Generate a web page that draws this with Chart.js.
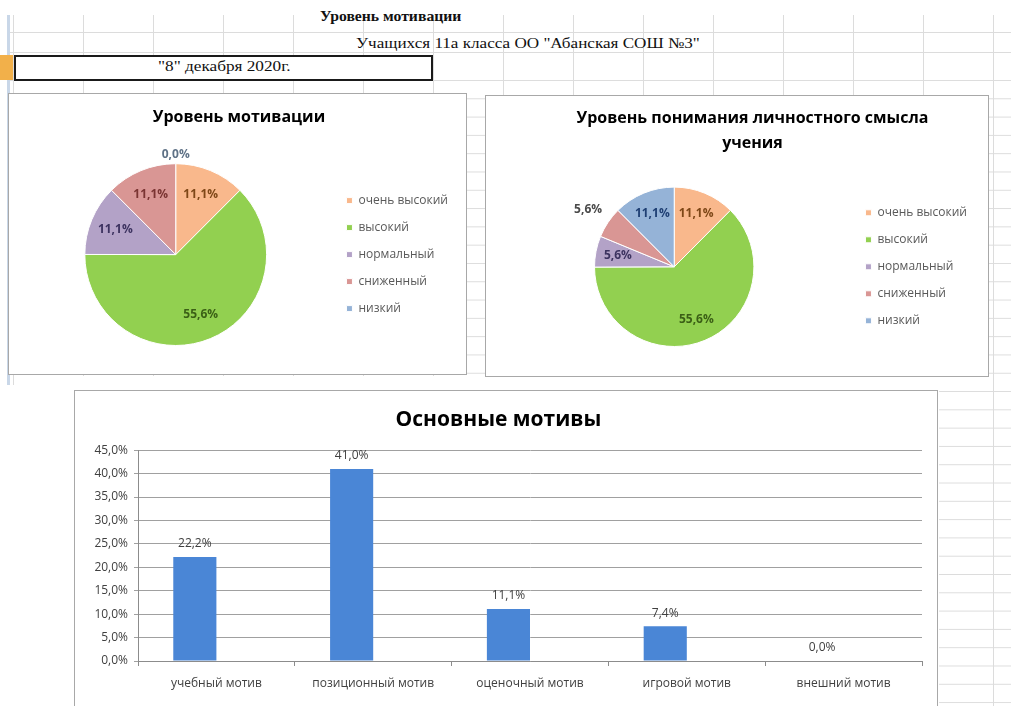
<!DOCTYPE html>
<html>
<head>
<meta charset="utf-8">
<script src="https://cdn.jsdelivr.net/npm/chart.js@4.4.0/dist/chart.umd.min.js"></script>
<style>
  body { margin: 0; width: 1011px; height: 706px; overflow: hidden; background: #fff; position: relative; }
  .abs { position: absolute; }
  .grid {
    left: 10px; top: 15px; width: 1001px; height: 691px;
    background-image: linear-gradient(to right, #dcdcdc 1px, transparent 1px);
    background-size: 70px 100%;
    background-position: 3px 0;
  }
  .rows {
    left: 10px; top: 80px; width: 1001px; height: 626px;
    background-image: linear-gradient(to bottom, #dcdcdc 1px, transparent 1px);
    background-size: 100% 18.3px;
  }
  .hline { height: 1px; background: #dcdcdc; left: 10px; width: 1001px; }
  .txt { white-space: nowrap; font-family: "Liberation Serif", serif; color: #111; transform-origin: left center; }
  .box { box-sizing: border-box; border: 1px solid #a8a8a8; background: #fff; }
  canvas { position: absolute; left: 0; top: 0; }
</style>
</head>
<body>
<div class="abs grid"></div>
<div class="abs rows"></div>
<div class="abs hline" style="top:32px"></div>
<div class="abs hline" style="top:52px"></div>
<div class="abs" style="left:7px;top:15px;width:3px;height:375px;background:#c9d7e8"></div>
<div class="abs" style="left:0;top:55px;width:13px;height:25px;background:#f2b04a"></div>
<div class="abs" style="left:0;top:385px;width:63px;height:321px;background:#fff"></div>
<div class="abs" style="left:63px;top:376px;width:876px;height:330px;background:#fff"></div>

<div class="abs txt" style="left:320px;top:9px;font-size:14px;font-weight:bold;transform:scaleX(1.12)">Уровень мотивации</div>
<div class="abs txt" style="left:356px;top:35px;font-size:15px;transform:scaleX(1.14)">Учащихся 11а класса ОО "Абанская СОШ №3"</div>
<div class="abs" style="left:14px;top:55px;width:419px;height:26px;box-sizing:border-box;border:2px solid #1a1a1a;background:#fff"></div>
<div class="abs txt" style="left:158px;top:59px;font-size:14px;transform:scaleX(1.23)">"8" декабря 2020г.</div>

<div class="abs box" style="left:8px;top:93px;width:459px;height:282px">
  <canvas id="pie1" width="457" height="280"></canvas>
</div>
<div class="abs box" style="left:485px;top:95px;width:504px;height:282px">
  <canvas id="pie2" width="502" height="280"></canvas>
</div>
<div class="abs box" style="left:74px;top:390px;width:864px;height:330px">
  <canvas id="bars" width="862" height="315"></canvas>
</div>

<script>
// data
const levelLabels = ['очень высокий', 'высокий', 'нормальный', 'сниженный', 'низкий'];
const motivationValues = [11.1, 55.6, 11.1, 11.1, 0.0];
const meaningValues = [11.1, 55.6, 5.6, 5.6, 11.1];

const motiveLabels = ['учебный мотив', 'позиционный мотив', 'оценочный мотив', 'игровой мотив', 'внешний мотив'];
const motiveValues = [22.2, 41.0, 11.1, 7.4, 0.0];
const motiveEmpty = [null, null, null, null, null];
const yMin = 0, yMax = 45, yStep = 5;

const sliceColors = ['#f9b88c', '#92d050', '#b3a2c7', '#d99694', '#95b3d7'];
const font = 'Open Sans';

function pct(v) {
  return v.toFixed(1).replace('.', ',') + '%';
}

// labels on slices, placed from the arc elements
const sliceLabels = {
  id: 'sliceLabels',
  afterDatasetsDraw(chart, args, opts) {
    const ctx = chart.ctx;
    const values = chart.data.datasets[0].data;
    ctx.save();
    ctx.font = 'bold 12px "' + font + '"';
    ctx.textAlign = 'center';
    ctx.textBaseline = 'middle';
    chart.getDatasetMeta(0).data.forEach((arc, i) => {
      const p = arc.getProps(['x', 'y', 'startAngle', 'endAngle', 'outerRadius'], true);
      const mid = (p.startAngle + p.endAngle) / 2;
      const k = opts.outside.includes(i) ? opts.outerFactor : 0.72;
      ctx.fillStyle = opts.colors[i];
      ctx.fillText(pct(values[i]), p.x + Math.cos(mid) * p.outerRadius * k, p.y + Math.sin(mid) * p.outerRadius * k);
    });
    ctx.restore();
  }
};

// excel had the title a bit off-centre
const titleShift = {
  id: 'titleShift',
  afterLayout(chart, args, opts) {
    const t = chart.titleBlock;
    if (t && opts.dx) {
      t.left += opts.dx;
      t.right += opts.dx;
    }
  }
};

const barLabels = {
  id: 'barLabels',
  afterDatasetsDraw(chart) {
    const ctx = chart.ctx;
    const values = chart.data.datasets[0].data;
    ctx.save();
    ctx.font = '12px "' + font + '"';
    ctx.fillStyle = '#404040';
    ctx.textAlign = 'center';
    ctx.textBaseline = 'middle';
    chart.getDatasetMeta(0).data.forEach((bar, i) => {
      ctx.fillText(pct(values[i]), bar.x, bar.y - 13);
    });
    ctx.restore();
  }
};

function pieConfig(values, title, titleOpts, pad, labelOpts, dx) {
  return {
    type: 'pie',
    data: {
      labels: levelLabels,
      datasets: [{
        data: values,
        backgroundColor: sliceColors,
        borderColor: '#ffffff',
        borderWidth: 1
      }]
    },
    options: {
      responsive: false,
      animation: false,
      layout: { padding: pad },
      plugins: {
        title: {
          display: true,
          text: title,
          color: '#000',
          font: { family: font, size: 16, weight: 'bold', lineHeight: titleOpts.lineHeight },
          padding: titleOpts.padding
        },
        legend: {
          position: 'right',
          fullSize: false,
          labels: {
            boxWidth: 6,
            boxHeight: 6,
            padding: 15,
            color: '#595959',
            font: { family: font, size: 12 }
          }
        },
        tooltip: { enabled: false },
        sliceLabels: labelOpts,
        titleShift: { dx: dx }
      }
    },
    plugins: [sliceLabels, titleShift]
  };
}

new Chart(document.getElementById('pie1'), pieConfig(
  motivationValues,
  'Уровень мотивации',
  { lineHeight: 1.2, padding: { top: 14, bottom: 36 } },
  { left: 11, right: 8, top: 0, bottom: 28 },
  { outside: [4], outerFactor: 1.1, colors: ['#7e4717', '#3b5f16', '#3d3360', '#7a3432', '#5f7287'] },
  0
));

new Chart(document.getElementById('pie2'), pieConfig(
  meaningValues,
  ['Уровень понимания личностного смысла', 'учения'],
  { lineHeight: 1.55, padding: { top: 10, bottom: 31 } },
  { left: 12, right: 11, top: 0, bottom: 29 },
  { outside: [3], outerFactor: 1.3, colors: ['#7e4717', '#3b5f16', '#3d3360', '#4a4a4a', '#1f3f73'] },
  15
));

new Chart(document.getElementById('bars'), {
  type: 'bar',
  data: {
    labels: motiveLabels,
    datasets: [
      { data: motiveValues, backgroundColor: '#4a86d6', categoryPercentage: 0.55, barPercentage: 1 },
      { data: motiveEmpty, backgroundColor: '#c0504d', categoryPercentage: 0.55, barPercentage: 1 }
    ]
  },
  options: {
    responsive: false,
    animation: false,
    layout: { padding: { left: 0, right: 15, top: 0, bottom: 0 } },
    plugins: {
      legend: { display: false },
      tooltip: { enabled: false },
      title: {
        display: true,
        text: 'Основные мотивы',
        color: '#000',
        font: { family: font, size: 21, weight: 'bold' },
        padding: { top: 16, bottom: 18 }
      }
    },
    scales: {
      x: {
        grid: { drawOnChartArea: false, color: '#8c8c8c', tickLength: 5, offset: true },
        border: { color: '#8c8c8c' },
        ticks: { color: '#404040', font: { family: font, size: 12 }, padding: 10, maxRotation: 0 },
        afterFit(scale) { scale.height = 45; }
      },
      y: {
        min: yMin,
        max: yMax,
        grid: { color: '#a0a0a0', tickLength: 4 },
        border: { color: '#8c8c8c' },
        ticks: {
          stepSize: yStep,
          color: '#404040',
          font: { family: font, size: 12 },
          padding: 6,
          callback: v => pct(v)
        },
        afterFit(scale) { scale.width = 63; }
      }
    }
  },
  plugins: [barLabels]
});
</script>
</body>
</html>
